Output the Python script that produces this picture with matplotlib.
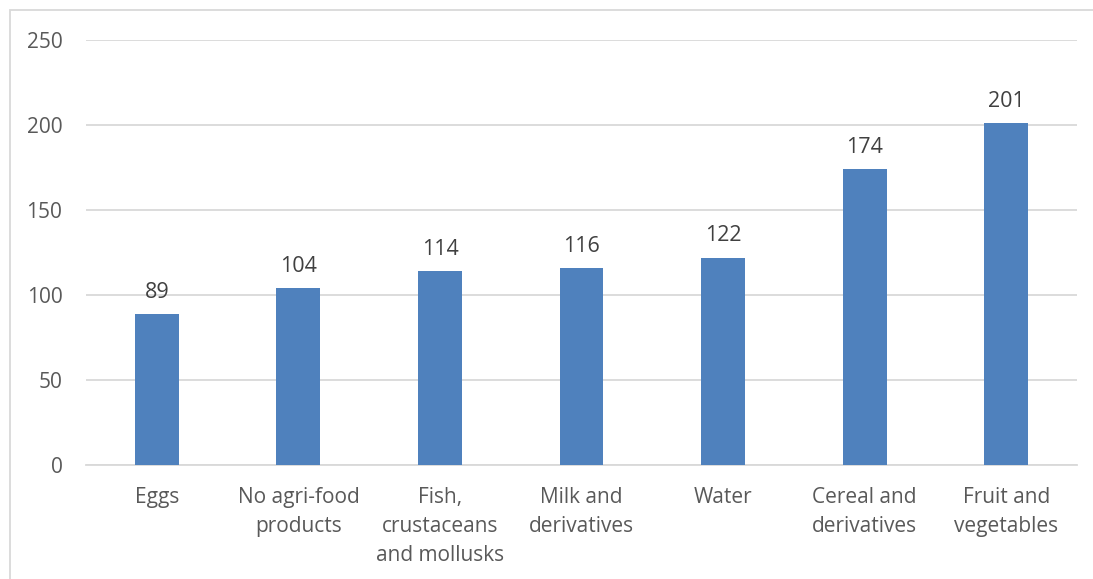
import matplotlib.pyplot as plt
from matplotlib.patches import Rectangle
import numpy as np

# Categorías y valores
categorias = ["Eggs", "No agri-food\nproducts", "Fish,\ncrustaceans\nand mollusks",
              "Milk and\nderivatives", "Water", "Cereal and\nderivatives", "Fruit and\nvegetables"]
valores = [89, 104, 114, 116, 122, 174, 201]
yticks = [0, 50, 100, 150, 200, 250]

plt.rcParams['font.family'] = ['Open Sans', 'DejaVu Sans']

fig = plt.figure(figsize=(10.93, 5.79), dpi=100)
ax = fig.add_axes([0.0787, 0.1969, 0.9067, 0.734])

x = np.arange(len(categorias))
barras = ax.bar(x, valores, width=0.31, color="#4F81BD", zorder=3)

# Etiquetas de valor encima de cada barra
for xi, v in zip(x, valores):
    ax.annotate(str(v), (xi, v), xytext=(0, 8), textcoords="offset points",
                ha="center", va="bottom", fontsize=15.5, color="#404040")

ax.set_xlim(-0.5, len(categorias) - 0.5)
ax.set_ylim(0, 250)
ax.set_yticks(yticks)
ax.set_xticks(x)
ax.set_xticklabels(categorias, linespacing=1.5)
ax.tick_params(axis="both", length=0, labelsize=15, labelcolor="#595959")
ax.tick_params(axis="y", pad=17)
ax.tick_params(axis="x", pad=16)

ax.grid(axis="y", color="#D9D9D9", linewidth=1.3, zorder=0)
for lado in ["top", "right", "left"]:
    ax.spines[lado].set_visible(False)
ax.spines["bottom"].set_color("#D9D9D9")
ax.spines["bottom"].set_linewidth(1.3)

# Marco del gráfico
fig.patches.append(Rectangle((0.0087, -0.2), 2, 1.2 - 10 / 579, transform=fig.transFigure,
                             fill=False, edgecolor="#D9D9D9", linewidth=1.3))

fig.savefig("out.png", dpi=100)
